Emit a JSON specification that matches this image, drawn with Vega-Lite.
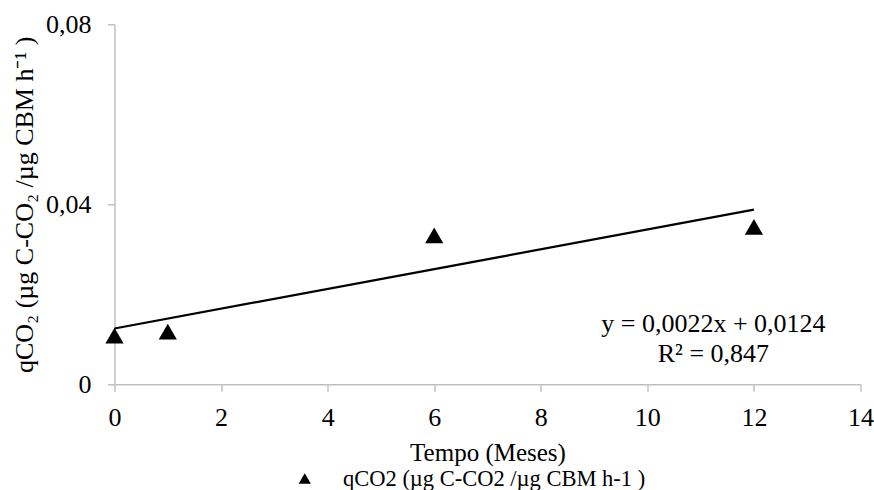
{
  "$schema": "https://vega.github.io/schema/vega-lite/v6.json",
  "width": 746,
  "height": 360,
  "autosize": {"type": "none"},
  "padding": {"left": 114.5, "top": 24.3, "right": 13.5, "bottom": 105.7},
  "background": "white",
  "config": {
    "view": {"stroke": null},
    "font": "Liberation Serif",
    "axis": {
      "grid": false,
      "domainColor": "#c0c0c0",
      "domainWidth": 1.5,
      "tickColor": "#c0c0c0",
      "tickWidth": 1.5,
      "tickSize": 7,
      "labelFont": "Liberation Serif",
      "labelFontSize": 26,
      "labelColor": "#000000",
      "titleFont": "Liberation Serif",
      "titleFontSize": 25,
      "titleFontWeight": "normal",
      "titleColor": "#000000"
    }
  },
  "datasets": {
    "pontos": [
      {"tempo": 0, "qco2": 0.0108, "serie": "qCO2 (µg C-CO2 /µg CBM h-1 )"},
      {"tempo": 1, "qco2": 0.0117, "serie": "qCO2 (µg C-CO2 /µg CBM h-1 )"},
      {"tempo": 6, "qco2": 0.0331, "serie": "qCO2 (µg C-CO2 /µg CBM h-1 )"},
      {"tempo": 12, "qco2": 0.035, "serie": "qCO2 (µg C-CO2 /µg CBM h-1 )"}
    ],
    "tendencia": [
      {"tempo": 0, "qco2": 0.0124},
      {"tempo": 12, "qco2": 0.0388}
    ],
    "equacao": [
      {"tempo": 11.24, "qco2": 0.0117}
    ]
  },
  "encoding": {
    "x": {
      "field": "tempo",
      "type": "quantitative",
      "scale": {"domain": [0, 14], "nice": false, "zero": false},
      "axis": {
        "values": [0, 2, 4, 6, 8, 10, 12, 14],
        "labelFont": "Liberation Serif",
        "titleFont": "Liberation Serif",
        "labelPadding": 13,
        "labelFlush": false,
        "labelOverlap": false,
        "title": "Tempo (Meses)",
        "titlePadding": 10
      }
    },
    "y": {
      "field": "qco2",
      "type": "quantitative",
      "scale": {"domain": [0, 0.08], "nice": false},
      "axis": {
        "values": [0, 0.04, 0.08],
        "labelFont": "Liberation Serif",
        "titleFont": "Liberation Serif",
        "labelExpr": "datum.value == 0 ? '0' : replace(format(datum.value, '.2f'), '.', ',')",
        "labelPadding": 16.5,
        "labelFlush": false,
        "labelOverlap": false,
        "title": "qCO₂ (µg C-CO₂ /µg CBM h⁻¹ )",
        "titleFontSize": 26,
        "titlePadding": 8
      }
    }
  },
  "layer": [
    {
      "data": {"name": "tendencia"},
      "mark": {"type": "line", "color": "#000000", "strokeWidth": 2.2}
    },
    {
      "data": {"name": "pontos"},
      "mark": {"type": "point", "shape": "triangle-up", "filled": true, "size": 330, "opacity": 1},
      "encoding": {
        "color": {
          "field": "serie",
          "type": "nominal",
          "scale": {"range": ["#000000"]},
          "legend": {
            "title": null,
            "orient": "none",
            "legendX": 179,
            "legendY": 443,
            "padding": 0,
            "symbolType": "triangle-up",
            "symbolSize": 150,
            "symbolStrokeWidth": 0,
            "labelFont": "Liberation Serif",
            "labelFontSize": 22.5,
            "labelColor": "#000000",
            "labelOffset": 27,
            "labelLimit": 600
          }
        }
      }
    },
    {
      "data": {"name": "equacao"},
      "mark": {
        "type": "text",
        "align": "center",
        "baseline": "alphabetic",
        "font": "Liberation Serif",
        "fontSize": 26,
        "lineHeight": 30,
        "color": "#000000"
      },
      "encoding": {
        "text": {"value": ["y = 0,0022x + 0,0124", "R² = 0,847"]}
      }
    }
  ]
}
